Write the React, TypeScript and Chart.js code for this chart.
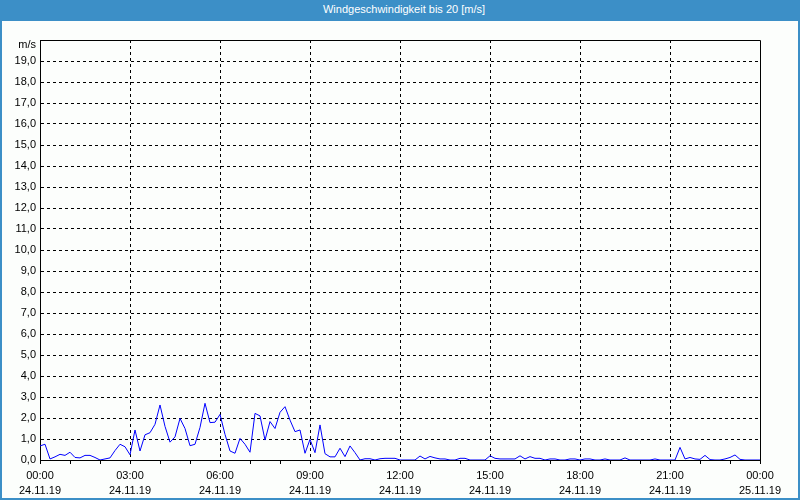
import React, { useEffect, useRef } from "react";
import { Chart, registerables } from "chart.js";

Chart.register(...registerables);

const chartTitle = "Windgeschwindigkeit bis 20 [m/s]";
const unitLabel = "m/s";
const stepMinutes = 10;

// wind speed [m/s], one value every 10 minutes from 24.11.19 00:00 to 25.11.19 00:00
const windSpeed = [
  0.67, 0.75, 0.05, 0.15, 0.27, 0.22, 0.37, 0.12, 0.1, 0.22, 0.22, 0.12,
  0.0, 0.05, 0.1, 0.45, 0.75, 0.63, 0.25, 1.43, 0.43, 1.2, 1.3, 1.7,
  2.62, 1.6, 0.85, 1.1, 1.98, 1.5, 0.68, 0.75, 1.55, 2.7, 1.78, 1.8,
  2.17, 1.22, 0.43, 0.32, 1.03, 0.75, 0.37, 2.22, 2.1, 0.95, 1.83, 1.5,
  2.27, 2.54, 1.9, 1.35, 1.43, 0.32, 0.98, 0.35, 1.67, 0.3, 0.15, 0.15,
  0.56, 0.16, 0.67, 0.35, 0.0, 0.06, 0.06, 0.0, 0.06, 0.08, 0.08, 0.08,
  0.0, 0.0, 0.0, 0.0, 0.19, 0.05, 0.17, 0.1, 0.05, 0.05, 0.0, 0.0,
  0.08, 0.08, 0.0, 0.0, 0.0, 0.0, 0.2, 0.08, 0.05, 0.05, 0.05, 0.05,
  0.2, 0.05, 0.16, 0.08, 0.08, 0.0, 0.05, 0.05, 0.0, 0.0, 0.05, 0.05,
  0.0, 0.05, 0.05, 0.0, 0.0, 0.05, 0.0, 0.0, 0.0, 0.1, 0.0, 0.0,
  0.0, 0.0, 0.0, 0.05, 0.0, 0.0, 0.0, 0.0, 0.6, 0.05, 0.12, 0.05,
  0.03, 0.22, 0.02, 0.0, 0.0, 0.05, 0.12, 0.24, 0.03, 0.0, 0.0, 0.0,
  0.0,
];

const majorHours = [0, 3, 6, 9, 12, 15, 18, 21, 24];
const timeLabels = ["00:00", "03:00", "06:00", "09:00", "12:00", "15:00", "18:00", "21:00", "00:00"];
const dateLabels = ["24.11.19", "24.11.19", "24.11.19", "24.11.19", "24.11.19", "24.11.19", "24.11.19", "24.11.19", "25.11.19"];

const yMin = 0;
const yMax = 20;
const FONT = '"Liberation Sans", Arial, sans-serif';

const framePlugin = {
  id: "frame",
  afterDraw(chart: any) {
    const { ctx, chartArea: a } = chart;
    ctx.save();
    ctx.strokeStyle = "#000";
    ctx.lineWidth = 1;
    const l = Math.round(a.left) + 0.5;
    const t = Math.round(a.top) + 0.5;
    const r = Math.round(a.right) + 0.5;
    const b = Math.round(a.bottom) + 0.5;
    ctx.beginPath();
    ctx.moveTo(l, t);
    ctx.lineTo(r, t);
    ctx.lineTo(r, b);
    ctx.stroke();
    ctx.fillStyle = "#000";
    ctx.font = "11px " + FONT;
    ctx.textAlign = "right";
    ctx.textBaseline = "middle";
    ctx.fillText(unitLabel, a.left - 4, a.top + 5);
    ctx.restore();
  },
};

function WindChart() {
  const ref = useRef<HTMLCanvasElement>(null);
  useEffect(() => {
    if (!ref.current) return;
    const points = windSpeed.map((v, i) => ({ x: (i * stepMinutes) / 60, y: v }));
    const chart = new Chart(ref.current, {
      type: "line",
      data: {
        datasets: [
          {
            data: points,
            borderColor: "#0000ff",
            borderWidth: 1,
            pointRadius: 0,
            tension: 0,
            fill: false,
          },
        ],
      },
      options: {
        animation: false,
        responsive: false,
        events: [],
        layout: { padding: { top: 40, right: 40, left: 0, bottom: 0 } },
        plugins: { legend: { display: false }, tooltip: { enabled: false }, title: { display: false } },
        scales: {
          x: {
            type: "linear",
            min: 0,
            max: 24,
            z: 1,
            afterFit: (s: any) => {
              s.height = 40;
            },
            ticks: {
              stepSize: 1,
              autoSkip: false,
              maxRotation: 0,
              padding: 4,
              color: "#000",
              font: { family: FONT, size: 11, lineHeight: "15px" },
              callback: (v: any) => {
                const idx = majorHours.indexOf(Number(v));
                return idx >= 0 ? [timeLabels[idx], dateLabels[idx]] : "";
              },
            },
            grid: {
              color: (c: any) => {
                const v = c.tick ? c.tick.value : -1;
                return v > 0 && v < 24 && v % 3 === 0 ? "#000" : "rgba(0,0,0,0)";
              },
              tickColor: "#000",
              tickLength: 4,
              tickBorderDash: [],
              lineWidth: 1,
            },
            border: { display: true, color: "#000", width: 1, dash: [3, 3] },
          },
          y: {
            type: "linear",
            min: yMin,
            max: yMax,
            afterFit: (s: any) => {
              s.width = 40;
            },
            ticks: {
              stepSize: 1,
              autoSkip: false,
              padding: 4,
              color: "#000",
              font: { family: FONT, size: 11 },
              callback: (v: any) => (Number(v) >= yMax ? "" : Number(v).toFixed(1).replace(".", ",")),
            },
            grid: {
              drawTicks: false,
              color: (c: any) => {
                const v = c.tick ? c.tick.value : -1;
                return v > yMin && v < yMax ? "#000" : "rgba(0,0,0,0)";
              },
              lineWidth: 1,
            },
            border: { display: true, color: "#000", width: 1, dash: [3, 3] },
          },
        },
      },
      plugins: [framePlugin],
    });
    return () => chart.destroy();
  }, []);
  return (
    <canvas
      ref={ref}
      width={800}
      height={500}
      style={{ position: "absolute", left: 0, top: 0, width: 800, height: 500 }}
    />
  );
}

export default function App() {
  return (
    <div
      style={{
        position: "fixed",
        left: 0,
        top: 0,
        width: 800,
        height: 500,
        background: "#3c8fc7",
        overflow: "hidden",
      }}
    >
      <div
        style={{
          position: "absolute",
          left: 0,
          top: 0,
          width: 800,
          height: 21,
          lineHeight: "19px",
          textAlign: "center",
          color: "#ffffff",
          fontFamily: FONT,
          fontSize: 11,
          paddingLeft: 8,
          boxSizing: "border-box",
        }}
      >
        {chartTitle}
      </div>
      <div
        style={{
          position: "absolute",
          left: 2,
          top: 21,
          width: 796,
          height: 477,
          background: "#fcfefc",
        }}
      />
      <WindChart />
    </div>
  );
}
